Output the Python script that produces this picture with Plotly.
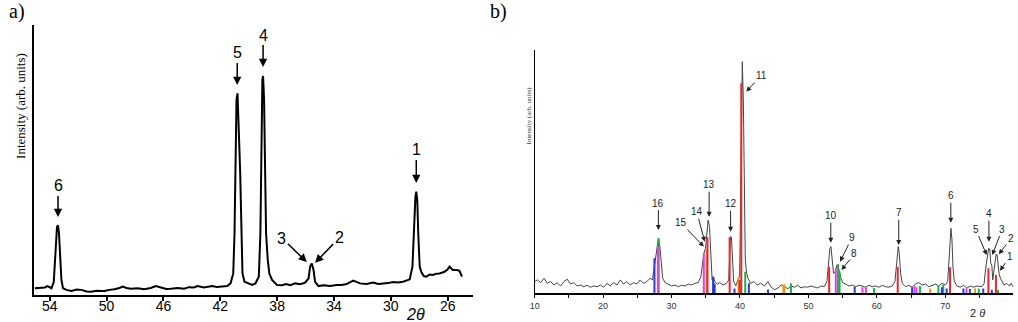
import plotly.graph_objects as go

# ---------------- Panel a data (2θ, intensity) ----------------
a_x = [55.05, 54.35, 54.16, 53.88, 53.72, 53.65, 53.58, 53.49, 53.42, 53.35, 53.28, 53.18, 53.07, 52.83,
       52.48, 52.10, 51.78, 51.40, 51.08, 50.70, 50.38, 50.15, 49.80, 49.45, 49.10, 48.86, 48.60, 48.28,
       47.80, 47.35, 46.90, 46.53, 46.18, 45.80, 45.48, 45.00, 44.55, 44.20, 43.85, 43.61, 43.15, 42.80,
       42.56, 42.25, 41.98, 41.51, 41.28, 41.09, 41.00, 40.93, 40.86, 40.79, 40.72, 40.67, 40.60, 40.53,
       40.44, 40.30, 39.99, 39.76, 39.53, 39.29, 39.18, 39.11, 39.04, 38.99, 38.92, 38.85, 38.78, 38.66,
       38.55, 38.36, 38.01, 37.66, 37.36, 37.08, 36.73, 36.38, 36.03, 35.79, 35.68, 35.56, 35.44, 35.33,
       35.09, 34.74, 34.28, 33.81, 33.46, 33.11, 32.64, 32.17, 31.71, 31.24, 30.90, 30.54, 30.20, 29.84,
       29.50, 29.14, 28.67, 28.48, 28.37, 28.27, 28.21, 28.14, 28.07, 27.97, 27.86, 27.69, 27.51, 27.25,
       27.04, 26.80, 26.57, 26.22, 26.00, 25.87, 25.64, 25.41, 25.18, 24.99]
a_y = [2.5, 2.8, 3.3, 2.5, 4.9, 11.7, 20.4, 25.3, 25.8, 22.8, 15.4, 5.6, 2.5, 1.9,
       1.5, 2.0, 1.9, 1.3, 1.2, 1.6, 1.5, 1.5, 1.9, 2.1, 2.6, 3.1, 2.6, 2.3,
       2.5, 2.1, 2.6, 3.3, 2.8, 2.2, 2.3, 2.6, 2.3, 2.9, 2.8, 3.3, 2.8, 3.2,
       3.3, 3.0, 3.1, 3.3, 4.3, 8.0, 22.8, 47.5, 72.2, 74.7, 57.4, 56.2, 45.1, 22.8,
       8.0, 4.9, 4.3, 3.7, 4.3, 6.8, 22.8, 59.9, 79.6, 81.1, 72.2, 47.5, 22.8, 13.0,
       8.0, 5.6, 3.7, 3.6, 4.1, 3.6, 4.3, 4.0, 4.6, 6.2, 10.5, 11.7, 9.3, 4.9,
       3.3, 3.6, 3.3, 3.7, 3.7, 4.1, 5.3, 4.3, 4.1, 4.6, 4.1, 4.3, 4.4, 4.8,
       4.6, 4.9, 5.8, 10.5, 25.3, 36.4, 38.3, 35.2, 22.8, 10.5, 8.6, 7.0, 6.8, 7.6,
       7.4, 7.9, 8.0, 8.6, 9.5, 10.5, 9.3, 9.3, 9.0, 6.8]

# ---------------- Panel b data ----------------
b_x = [10.00, 10.39, 10.87, 11.36, 11.84, 12.33, 12.81, 13.30, 13.78, 14.27, 14.75, 15.24, 15.72, 16.20,
       16.69, 17.17, 17.66, 18.14, 18.63, 19.11, 19.60, 20.08, 20.57, 21.05, 21.54, 22.02, 22.51, 22.99,
       23.48, 23.96, 24.44, 24.93, 25.41, 25.90, 26.38, 26.87, 27.21, 27.50, 27.69, 27.89, 28.08, 28.27,
       28.47, 28.71, 29.05, 29.53, 30.02, 30.50, 30.99, 31.47, 31.96, 32.44, 32.93, 33.41, 33.90, 34.28,
       34.53, 34.72, 34.96, 35.16, 35.35, 35.55, 35.74, 35.93, 36.13, 36.32, 36.71, 37.05, 37.53, 38.02,
       38.36, 38.50, 38.60, 38.75, 38.89, 39.08, 39.38, 39.71, 39.96, 40.10, 40.25, 40.34, 40.49, 40.63,
       40.78, 40.97, 41.17, 41.56, 42.04, 42.53, 43.01, 43.59, 44.08, 44.56, 45.05, 45.53, 46.02, 46.50,
       46.99, 47.47, 47.95, 48.44, 48.92, 49.41, 49.89, 50.38, 50.86, 51.35, 51.83, 52.32, 52.70, 52.95,
       53.14, 53.29, 53.48, 53.67, 53.92, 54.16, 54.35, 54.55, 54.74, 55.03, 55.47, 55.95, 56.44, 56.92,
       57.41, 57.89, 58.38, 58.86, 59.35, 59.83, 60.32, 60.80, 61.28, 61.77, 62.25, 62.64, 62.84, 62.99,
       63.13, 63.27, 63.47, 63.71, 64.19, 64.68, 65.16, 65.65, 66.13, 66.62, 67.10, 67.59, 68.07, 68.56,
       69.04, 69.53, 70.01, 70.35, 70.55, 70.69, 70.83, 70.98, 71.12, 71.32, 71.71, 72.19, 72.68, 73.16,
       73.65, 74.13, 74.62, 75.34, 75.68, 75.88, 76.07, 76.22, 76.36, 76.51, 76.65, 76.80, 76.94, 77.09,
       77.28, 77.43, 77.57, 77.72, 77.86, 78.06, 78.30, 78.59, 78.98, 79.37, 79.61, 79.95]
b_y = [4.8, 5.5, 4.4, 6.2, 4.1, 4.8, 3.4, 4.4, 3.0, 4.8, 5.8, 3.8, 4.4, 3.0,
       3.4, 2.7, 3.3, 2.5, 3.0, 2.7, 3.4, 2.5, 4.1, 3.0, 4.4, 3.4, 5.5, 3.8,
       4.8, 3.4, 4.4, 3.8, 5.5, 4.1, 4.8, 6.2, 5.5, 11.0, 14.4, 18.5, 22.6, 19.9,
       12.3, 6.2, 4.4, 3.8, 3.0, 3.4, 2.7, 3.3, 3.0, 3.8, 3.4, 4.1, 4.4, 6.8,
       13.7, 16.4, 18.5, 24.7, 30.1, 27.4, 13.7, 5.5, 6.8, 4.8, 3.8, 4.4, 3.4, 4.1,
       5.5, 16.4, 23.3, 23.0, 13.7, 4.8, 3.0, 5.5, 7.5, 38.4, 86.3, 95.2, 79.5, 38.4,
       13.7, 8.2, 6.2, 4.1, 4.8, 3.4, 4.1, 3.0, 4.8, 2.5, 1.5, 2.1, 3.4, 2.7,
       1.9, 3.0, 2.5, 3.3, 2.2, 2.7, 2.5, 3.0, 2.7, 2.2, 3.0, 2.7, 4.8, 12.3,
       18.5, 19.2, 12.3, 8.2, 8.9, 11.6, 11.0, 8.2, 6.2, 4.4, 3.8, 3.0, 3.4, 2.7,
       3.4, 3.0, 2.5, 3.3, 2.7, 3.0, 2.5, 3.3, 2.7, 2.5, 3.0, 4.8, 11.0, 16.4,
       19.2, 16.4, 8.2, 4.1, 2.7, 3.3, 2.5, 3.8, 4.4, 3.4, 3.8, 2.7, 3.3, 3.8,
       3.0, 4.1, 3.4, 4.8, 13.7, 23.3, 26.7, 21.9, 11.0, 4.8, 3.0, 2.5, 3.3, 2.1,
       3.0, 2.5, 3.0, 2.7, 4.1, 9.6, 15.1, 16.4, 18.5, 17.8, 12.3, 11.6, 5.5, 8.2,
       12.3, 16.2, 15.8, 11.0, 8.2, 6.2, 4.8, 3.4, 4.1, 3.0, 4.1, 2.5]

# reference pattern sticks (position, height) by colour
green_x = [28.12, 40.77, 47.45, 54.33, 54.55, 59.6, 66.3, 69.0, 69.7, 74.9, 77.7]
green_h = [22.6, 8.9, 4.1, 12.0, 9.0, 2.2, 3.0, 3.0, 3.5, 2.0, 1.5]
blue_x = [27.5, 36.07, 36.3, 39.2, 41.3, 44.1, 56.76, 65.15, 69.5, 70.2, 72.65, 73.6, 75.55, 76.8]
blue_h = [14.4, 6.8, 4.0, 2.0, 4.1, 1.6, 2.7, 2.5, 2.5, 2.0, 2.0, 1.8, 2.0, 1.5]
orange_x = [35.1, 39.8, 46.35, 46.5, 67.8, 74.35]
orange_h = [17.8, 6.8, 3.6, 3.6, 2.0, 2.0]
magenta_x = [28.0, 34.71, 54.0, 57.9, 58.4, 65.5, 65.8, 73.1]
magenta_h = [19.2, 16.4, 10.3, 2.5, 2.5, 3.0, 2.5, 2.0]
red_x = [35.25, 38.49, 39.95, 40.19, 53.03, 63.05, 70.7, 76.3, 77.4]
red_h = [23.0, 23.0, 5.5, 86.3, 10.9, 10.9, 10.7, 10.3, 7.5]

# peak labels: (label, x, y of arrow head, ax, ay)
a_labels = ["6", "5", "4", "1", "3", "2"]
a_lx = [53.42, 40.81, 38.99, 28.21, 35.91, 35.33]
a_ly = [28.9, 77.8, 84.4, 41.5, 12.2, 11.9]
a_ax = [0, 0, 0, 0, -25, 24]
a_ay = [-31, -32, -32, -33, -24, -25]

b_labels = ["16", "15", "14", "13", "12", "11", "10", "9", "8", "7", "6", "5", "4", "3", "2", "1"]
b_lx = [28.08, 34.71, 34.85, 35.49, 38.63, 40.92, 53.27, 54.62, 54.83, 63.2, 70.81, 76.05, 76.38, 76.86, 77.83, 77.98]
b_ly = [26.0, 19.2, 21.2, 31.5, 25.3, 82.9, 20.8, 13.0, 9.6, 19.9, 29.0, 15.7, 21.2, 15.7, 16.0, 9.3]
b_ax = [0, -23, -8, 0, 0, 15, 0, 12, 13, 0, 0, -11, 0, 10, 12, 10]
b_ay = [-27, -24, -30, -32, -28, -16, -27, -24, -16, -32, -27, -26, -28, -26, -16, -14]

a_ticks = [54, 50, 46, 42, 38, 34, 30, 26]
b_ticks = [10, 15, 20, 25, 30, 35, 40, 45, 50, 55, 60, 65, 70, 75]
b_ticktext = ["10", "", "20", "", "30", "", "40", "", "50", "", "60", "", "70", ""]

W, H = 1018, 322


def px(v):
    return v / W


def py(v):
    return 1 - v / H


fig = go.Figure()
fig.add_trace(go.Scatter(x=a_x, y=a_y, mode="lines", line=dict(color="black", width=2),
                         xaxis="x", yaxis="y", showlegend=False, hoverinfo="skip"))
fig.add_trace(go.Scatter(x=b_x, y=b_y, mode="lines", line=dict(color="#444", width=1),
                         xaxis="x2", yaxis="y2", showlegend=False, hoverinfo="skip"))


def sticks(xs, hs):
    sx, sy = [], []
    for xv, hv in zip(xs, hs):
        sx += [xv, xv, None]
        sy += [0, hv, None]
    return sx, sy


for xs, hs, col in [(green_x, green_h, "#22b04a"), (blue_x, blue_h, "#2b3cc8"),
                    (orange_x, orange_h, "#e39a1c"), (magenta_x, magenta_h, "#e040e8"),
                    (red_x, red_h, "#e8262e")]:
    sx, sy = sticks(xs, hs)
    fig.add_trace(go.Scatter(x=sx, y=sy, mode="lines", line=dict(color=col, width=2),
                             xaxis="x2", yaxis="y2", showlegend=False, hoverinfo="skip"))

annotations = []
for t, xv, yv, axv, ayv in zip(a_labels, a_lx, a_ly, a_ax, a_ay):
    annotations.append(dict(text=t, x=xv, y=yv, xref="x", yref="y", ax=axv, ay=ayv,
                            showarrow=True, arrowhead=2, arrowsize=1.1, arrowwidth=1.5,
                            arrowcolor="black", font=dict(family="Liberation Sans, Arial", size=16, color="black")))
for t, xv, yv, axv, ayv in zip(b_labels, b_lx, b_ly, b_ax, b_ay):
    annotations.append(dict(text=t, x=xv, y=yv, xref="x2", yref="y2", ax=axv, ay=ayv,
                            showarrow=True, arrowhead=2, arrowsize=1, arrowwidth=1,
                            arrowcolor="#222", font=dict(family="Liberation Sans, Arial", size=10, color="#222")))

paper_notes = [
    ("a)", 12, 12, 0, "Liberation Serif, Times New Roman", 20, "black"),
    ("b)", 496, 12, 0, "Liberation Serif, Times New Roman", 20, "black"),
    ("Intensity (arb. units)", 15, 106, -90, "Liberation Serif, Times New Roman", 13, "black"),
    ("Intensity (arb. units)", 527, 115, -90, "Liberation Serif, Times New Roman", 7, "#333"),
    ("<i>2θ</i>", 413, 314, 0, "Liberation Sans, Arial", 16, "black"),
    ("2 <i>θ</i>", 977, 313, 0, "Liberation Sans, Arial", 11, "#222"),
]
for t, xp, yp, ang, fam, sz, col in paper_notes:
    annotations.append(dict(text=t, x=px(xp), y=py(yp), xref="paper", yref="paper", showarrow=False,
                            xanchor="center", yanchor="middle", textangle=ang,
                            font=dict(family=fam, size=sz, color=col)))

fig.update_layout(
    width=W, height=H, margin=dict(l=0, r=0, t=0, b=0),
    paper_bgcolor="white", plot_bgcolor="white",
    xaxis=dict(domain=[px(29), px(470)], range=[55.12, 24.24], anchor="y",
               tickvals=a_ticks, ticks="outside", ticklen=4, tickwidth=1.5, tickcolor="black",
               ticklabelstandoff=-7,
               showline=True, linecolor="black", linewidth=2, showgrid=False, zeroline=False,
               tickfont=dict(family="Liberation Sans, Arial", size=14, color="black")),
    yaxis=dict(domain=[py(295), py(25)], range=[0, 100], anchor="x",
               showticklabels=False, ticks="", showline=True, linecolor="black", linewidth=2,
               showgrid=False, zeroline=False),
    xaxis2=dict(domain=[px(532.3), px(1013)], range=[10, 79.9], anchor="y2",
                tickvals=b_ticks, ticktext=b_ticktext, ticks="outside", ticklen=3, tickwidth=1,
                tickcolor="black", showline=True, linecolor="black", linewidth=1.5,
                showgrid=False, zeroline=False,
                tickfont=dict(family="Liberation Sans, Arial", size=9, color="#333")),
    yaxis2=dict(domain=[py(293.3), py(50)], range=[0, 100], anchor="x2",
                showticklabels=False, ticks="", showline=True, linecolor="black", linewidth=1.2,
                showgrid=False, zeroline=False),
    annotations=annotations,
)

fig.write_html("out.html")
